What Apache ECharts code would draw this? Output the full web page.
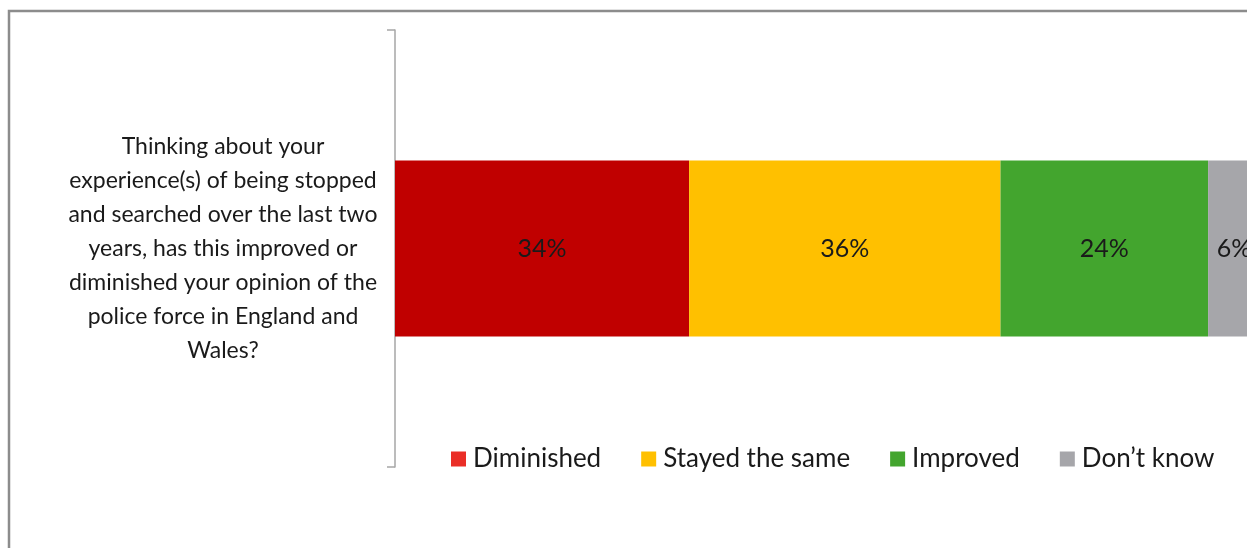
<!DOCTYPE html>
<html>
<head>
<meta charset="utf-8">
<script src="https://cdn.jsdelivr.net/npm/echarts@6/dist/echarts.min.js"></script>
<style>
  html, body { margin: 0; padding: 0; background: #fff; overflow: hidden; }
  #chart { width: 1260px; height: 548px; }
</style>
</head>
<body>
<div id="chart"></div>
<script>
// question text (one category)
var categories = [
    'Thinking about your\nexperience(s) of being stopped\nand searched over the last two\nyears, has this improved or\ndiminished your opinion of the\npolice force in England and\nWales?'
];
var seriesNames = ['Diminished', 'Stayed the same', 'Improved', 'Don\u2019t know'];
var seriesValues = [34, 36, 24, 6];

var barColors = ['#C00000', '#FFC000', '#43A52E', '#A6A6AA'];
var legendColors = ['#EA2E27', '#FFC000', '#43A52E', '#A6A6AA'];
var font = 'Lato';

// chart is wider than the window so the last segment gets cut off like the original
var myDom = document.getElementById('chart');
var myChart = echarts.init(myDom);

var series = seriesNames.map(function (name, i) {
    return {
        name: name,
        type: 'bar',
        stack: 'total',
        barWidth: 176,
        itemStyle: { color: barColors[i] },
        label: {
            show: true,
            position: 'inside',
            formatter: '{c}%',
            color: '#1a1a1a',
            fontFamily: font,
            fontSize: 25
        },
        emphasis: { disabled: true },
        data: [seriesValues[i]]
    };
});

myChart.setOption({
    animation: false,
    textStyle: { fontFamily: font },
    graphic: [{
        type: 'rect',
        shape: { x: 9, y: 11, width: 1400, height: 700 },
        style: { fill: 'none', stroke: '#8c8c8c', lineWidth: 2.5 },
        silent: true
    }],
    grid: {
        left: 395,
        right: 0,
        top: 30,
        bottom: 81
    },
    legend: {
        left: 451,
        top: 446,
        padding: 0,
        itemWidth: 15,
        itemHeight: 15,
        itemGap: 40,
        icon: 'rect',
        textStyle: {
            color: '#1a1a1a',
            fontFamily: font,
            fontSize: 26,
            padding: [0, 0, 0, 2]
        },
        data: seriesNames.map(function (n, i) {
            return { name: n, itemStyle: { color: legendColors[i] } };
        })
    },
    xAxis: {
        type: 'value',
        min: 0,
        max: 100,
        show: false
    },
    yAxis: {
        type: 'category',
        data: categories,
        axisLine: { show: true, lineStyle: { color: '#a6a6a6', width: 1.5 } },
        axisTick: { show: true, interval: 0, length: 8, lineStyle: { color: '#a6a6a6', width: 1.5 } },
        axisLabel: {
            align: 'center',
            margin: 172,
            color: '#1a1a1a',
            fontFamily: font,
            fontSize: 23,
            lineHeight: 34
        }
    },
    series: series
});
</script>
</body>
</html>
